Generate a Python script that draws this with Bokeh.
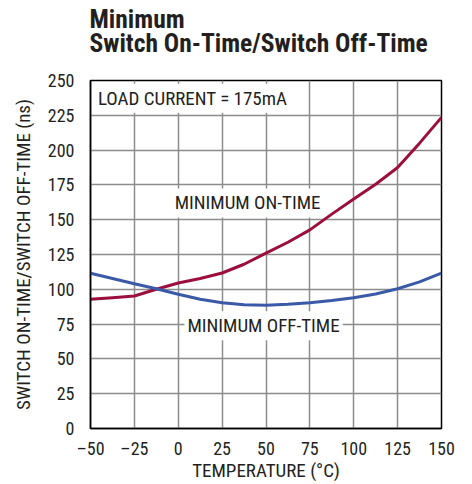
from bokeh.plotting import figure
from bokeh.models import Label, FixedTicker, Title
from bokeh.embed import file_html
from bokeh.resources import INLINE

temps = [-50, -37.5, -25, -12.5, 0, 12.5, 25, 37.5, 50, 62.5, 75, 87.5, 100, 112.5, 125, 137.5, 150]
on_time = [92.8, 94, 95.2, 100, 104.5, 107.8, 111.7, 118, 126, 133.8, 142.7, 154, 164.8, 175.5, 187.5, 205, 223.5]
off_time = [111.5, 107.8, 104, 100.4, 96.5, 92.8, 90.4, 88.9, 88.5, 89.2, 90.3, 92, 94, 96.6, 100.4, 105.3, 111.6]
x_ticks = [-50, -25, 0, 25, 50, 75, 100, 125, 150]
y_ticks = [0, 25, 50, 75, 100, 125, 150, 175, 200, 225, 250]

FONT = "Roboto Condensed"
TXT = "#231f20"

p = figure(width=464, height=484, output_backend="svg", toolbar_location=None,
           x_range=(-50, 150), y_range=(0, 250),
           min_border_left=90, min_border_right=23, min_border_top=77, min_border_bottom=55)

p.outline_line_color = "black"
p.outline_line_width = 1.5
p.background_fill_color = "white"
p.border_fill_color = "white"

for ax in (p.xaxis[0], p.yaxis[0]):
    ax.axis_line_color = "black"
    ax.axis_line_width = 1.5
    ax.major_tick_line_color = None
    ax.minor_tick_line_color = None
    ax.major_label_text_font = FONT
    ax.major_label_text_font_size = "18px"
    ax.major_label_text_color = TXT
    ax.axis_label_text_font = FONT
    ax.axis_label_text_font_size = "19px"
    ax.axis_label_text_font_style = "normal"
    ax.axis_label_text_color = TXT

p.xaxis.ticker = FixedTicker(ticks=x_ticks)
p.yaxis.ticker = FixedTicker(ticks=y_ticks)
p.xaxis.major_label_overrides = {t: (str(t).replace("-", "\u2013")) for t in x_ticks}
p.xaxis.major_label_standoff = 3
p.yaxis.major_label_standoff = 10
p.xaxis.axis_label = "TEMPERATURE (\u00b0C)"
p.yaxis.axis_label = "SWITCH ON-TIME/SWITCH OFF-TIME (ns)"
p.xaxis.axis_label_standoff = -3
p.yaxis.axis_label_standoff = 10

p.xgrid.ticker = FixedTicker(ticks=x_ticks)
p.ygrid.ticker = FixedTicker(ticks=y_ticks)
p.grid.grid_line_color = "#8c8c8c"
p.grid.grid_line_width = 1.5

p.line(temps, on_time, line_color="#9c0f3c", line_width=3)
p.line(temps, off_time, line_color="#3a5aa8", line_width=3)

def lab(x, y, text, align="left"):
    p.add_layout(Label(x=x, y=y, text=text, text_font=FONT, text_font_size="19px",
                       text_color=TXT, text_align=align, text_baseline="middle",
                       background_fill_color="white", background_fill_alpha=1.0, padding=3))

lab(-47.5, 237.2, "LOAD CURRENT = 175mA")
lab(39.5, 162, "MINIMUM ON-TIME", "center")
lab(48.6, 73.9, "MINIMUM OFF-TIME", "center")

# spacer between frame and title (closest to the frame)
spacer = Title(text=" ", text_font_size="1px", standoff=18, align="left")
p.add_layout(spacer, "above")

title = Title(text="Minimum\nSwitch On-Time/Switch Off-Time", text_font=FONT, text_font_size="25.5px",
              text_font_style="bold", text_color=TXT, align="left", offset=-1, standoff=3,
              vertical_align="bottom", text_line_height=0.8)
p.add_layout(title, "above")

open("out.html", "w").write(file_html(p, INLINE))
